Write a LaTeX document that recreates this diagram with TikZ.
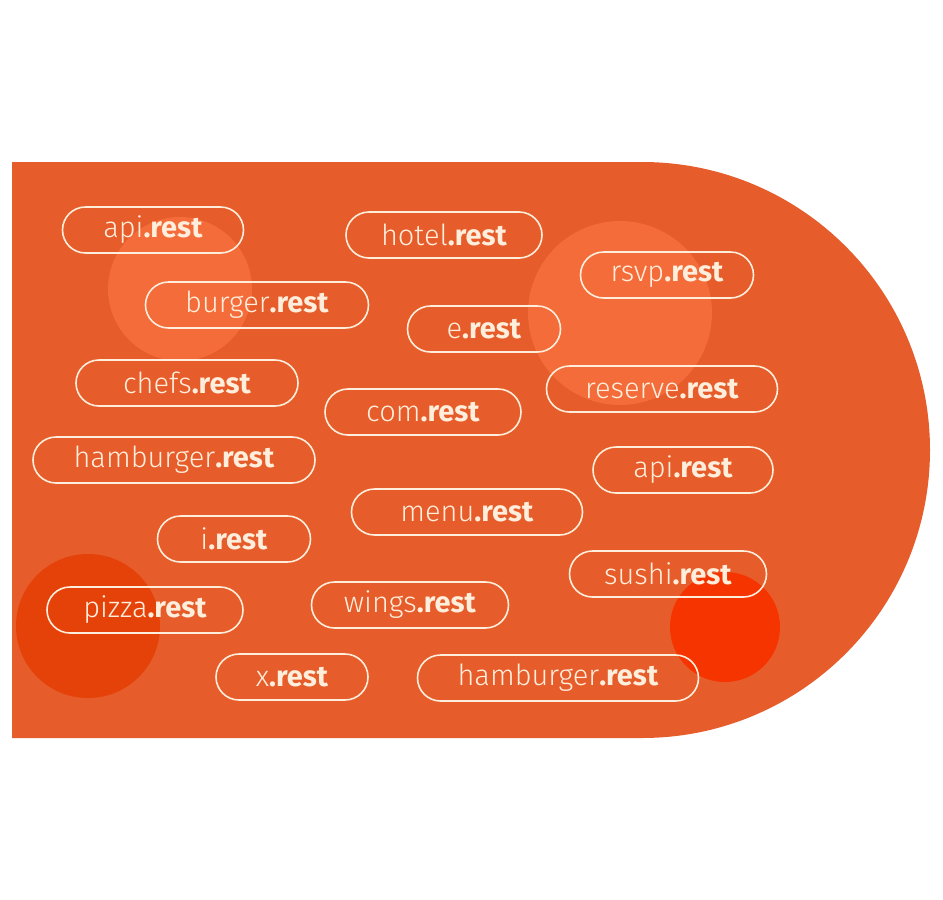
\documentclass[tikz,border=0pt]{standalone}
\usepackage{fontspec}
\setmainfont{Fira Sans}[UprightFont=* Light, BoldFont=* Bold]
\usepackage{tikz}
\usetikzlibrary{shapes.misc, positioning}
\definecolor{restorange}{RGB}{230, 92, 42}
\definecolor{glowlight}{RGB}{243, 108, 58}
\definecolor{glowdark}{RGB}{229, 66, 10}
\definecolor{glowred}{RGB}{246, 52, 0}
\definecolor{cream}{RGB}{255, 238, 220}
\newcommand{\dom}[1]{#1\textbf{.rest}}

\begin{document}
\begin{tikzpicture}[x=1pt, y=-1pt,
  pill/.style={draw=cream, line width=1.6pt, rounded rectangle, minimum height=46pt,
    inner xsep=0pt, text=cream, font=\fontsize{29}{32}\selectfont}]
  \useasboundingbox (0,0) rectangle (943,900);

  % Background shape
  \fill[restorange] (12,162) -- (642,162) arc[start angle=-90, end angle=90, radius=288] -- (12,738) -- cycle;

  % Glow circles
  \fill[glowlight] (180,289) circle[radius=72];
  \fill[glowlight] (620,313) circle[radius=92];
  \fill[glowdark] (88,626) circle[radius=72];
  \fill[glowred] (725,627) circle[radius=55];

  % Domain pills
  \node[pill, minimum width=181] (api) at (153,230) {\dom{api}};
  \node[pill, minimum width=196] (hotel) at (444,235) {\dom{hotel}};
  \node[pill, minimum width=173] (rsvp) at (667,275) {\dom{rsvp}};
  \node[pill, minimum width=223] (burger) at (257,305) {\dom{burger}};
  \node[pill, minimum width=153] (e) at (484,329) {\dom{e}};
  \node[pill, minimum width=222] (chefs) at (187,383) {\dom{chefs}};
  \node[pill, minimum width=196] (com) at (423,412) {\dom{com}};
  \node[pill, minimum width=231] (reserve) at (662,389) {\dom{reserve}};
  \node[pill, minimum width=282] (hamburger) at (174,460) {\dom{hamburger}};
  \node[pill, minimum width=180] (apitwo) at (683,470) {\dom{api}};
  \node[pill, minimum width=231] (menu) at (467,512) {\dom{menu}};
  \node[pill, minimum width=153] (i) at (234,539) {\dom{i}};
  \node[pill, minimum width=197] (sushi) at (668,574) {\dom{sushi}};
  \node[pill, minimum width=196] (pizza) at (145,610) {\dom{pizza}};
  \node[pill, minimum width=197] (wings) at (410,605) {\dom{wings}};
  \node[pill, minimum width=152] (xdom) at (292,677) {\dom{x}};
  \node[pill, minimum width=281] (hamburgertwo) at (558,678) {\dom{hamburger}};
\end{tikzpicture}
\end{document}
